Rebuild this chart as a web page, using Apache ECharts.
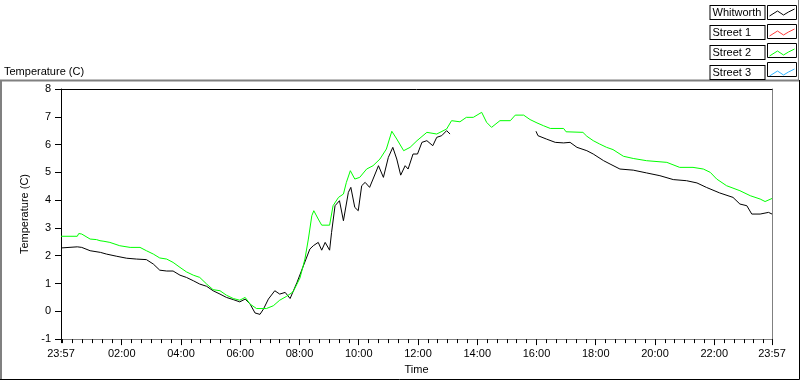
<!DOCTYPE html>
<html>
<head>
<meta charset="utf-8">
<script src="https://cdn.jsdelivr.net/npm/echarts@6/dist/echarts.min.js"></script>
<style>
html,body{margin:0;padding:0;background:#fff;}
#chart{width:800px;height:380px;}
</style>
</head>
<body>
<div id="chart"></div>
<script>
// ---- data (x = minutes since 00:00 of the first day; 23:57 start = -3) ----
const seriesNames = ['Whitworth', 'Street 1', 'Street 2', 'Street 3'];
const seriesColors = ['#000000', '#ff3b3b', '#00ff00', '#33b5ff'];

const whitworthMinutes = [-3, 30, 39, 56, 77, 89, 110, 130, 150, 170, 184, 197, 211, 224, 238, 251, 265, 278, 292, 305, 319, 332, 346, 359, 370, 380, 390, 400, 407, 417, 430, 440, 451, 461, 475, 488, 501, 508, 518, 525, 532, 541, 545, 552, 561, 569, 579, 584, 592, 599, 606, 613, 622, 629, 640, 650, 660, 669, 677, 685, 694, 700, 710, 719, 728, 738, 750, 758, 768, 778, 785,
  870,
  959, 963, 980, 998, 1015, 1028, 1042, 1062, 1075, 1096, 1109, 1129, 1156, 1183, 1210, 1237, 1264, 1285, 1304, 1331, 1358, 1372, 1386, 1396, 1413, 1430, 1437];
const whitworthTemps = [2.28, 2.32, 2.30, 2.18, 2.12, 2.06, 1.98, 1.91, 1.88, 1.86, 1.70, 1.48, 1.45, 1.45, 1.30, 1.22, 1.10, 0.98, 0.90, 0.74, 0.62, 0.50, 0.42, 0.34, 0.44, 0.26, -0.06, -0.11, 0.08, 0.44, 0.74, 0.62, 0.68, 0.46, 1.04, 1.64, 2.24, 2.36, 2.48, 2.20, 2.48, 2.20, 2.84, 3.80, 3.98, 3.26, 4.28, 4.46, 3.74, 3.62, 4.52, 4.64, 4.46, 4.76, 5.24, 4.82, 5.54, 5.90, 5.48, 4.90, 5.24, 5.12, 5.66, 5.66, 6.08, 6.14, 5.96, 6.26, 6.32, 6.50, 6.38,
  null,
  6.48, 6.32, 6.20, 6.08, 6.06, 6.08, 5.90, 5.78, 5.66, 5.42, 5.30, 5.12, 5.08, 4.98, 4.88, 4.74, 4.70, 4.62, 4.46, 4.26, 4.10, 3.86, 3.80, 3.50, 3.50, 3.56, 3.50];

const street1Minutes = [];
const street1Temps = [];

const street2Minutes = [-3, 30, 33, 39, 42, 56, 69, 76, 80, 84, 96, 116, 137, 157, 170, 184, 197, 211, 214, 224, 238, 251, 265, 278, 292, 305, 319, 332, 346, 359, 370, 380, 393, 413, 427, 440, 454, 467, 481, 491, 498, 505, 509, 518, 525, 541, 548, 559, 569, 575, 583, 592, 602, 616, 629, 643, 656, 667, 677, 691, 704, 718, 738, 758, 778, 788, 805, 818, 832, 849, 859, 869, 886, 907, 917, 934, 947, 961, 974, 988, 1015, 1020, 1054, 1062, 1075, 1088, 1102, 1115, 1136, 1156, 1183, 1224, 1250, 1277, 1298, 1312, 1325, 1345, 1372, 1393, 1413, 1423, 1437];
const street2Temps = [2.70, 2.70, 2.80, 2.78, 2.72, 2.60, 2.58, 2.54, 2.60, 2.52, 2.48, 2.36, 2.30, 2.30, 2.18, 2.06, 1.92, 1.88, 1.95, 1.76, 1.58, 1.42, 1.30, 1.22, 0.98, 0.78, 0.74, 0.58, 0.46, 0.40, 0.50, 0.26, 0.10, 0.10, 0.20, 0.40, 0.54, 0.70, 1.20, 1.88, 2.60, 3.44, 3.62, 3.32, 3.10, 3.10, 3.80, 4.10, 4.22, 4.64, 5.06, 4.76, 4.82, 5.12, 5.24, 5.48, 5.84, 6.48, 6.20, 5.78, 5.90, 6.14, 6.44, 6.38, 6.56, 6.86, 6.82, 6.98, 6.98, 7.16, 6.80, 6.62, 6.86, 6.86, 7.06, 7.06, 6.90, 6.78, 6.68, 6.58, 6.58, 6.46, 6.44, 6.30, 6.14, 6.02, 5.90, 5.82, 5.58, 5.50, 5.42, 5.36, 5.18, 5.18, 5.12, 5.00, 4.76, 4.52, 4.34, 4.16, 4.04, 3.95, 4.06];

const street3Minutes = [];
const street3Temps = [];

// tick labels
const xLabelMinutes = [-3, 120, 240, 360, 480, 600, 720, 840, 960, 1080, 1200, 1320, 1437];
const xLabelTexts = ['23:57', '02:00', '04:00', '06:00', '08:00', '10:00', '12:00', '14:00', '16:00', '18:00', '20:00', '22:00', '23:57'];
const xMinorTickMinutes = [-3];
for (let m = 0; m <= 1420; m += 20) { if (m === 0 || m % 120 !== 0) xMinorTickMinutes.push(m); }
const xMajorTickMinutes = xLabelMinutes.slice(1);

const yMin = -1, yMax = 8;
const xMin = -3, xMax = 1437;

function pairs(xs, ys) { return xs.map((x, i) => [x, ys[i]]); }

const FONT = 'Liberation Sans';
const chart = echarts.init(document.getElementById('chart'), null, { renderer: 'canvas' });

// legend geometry
const legTop = 5, legRight = 5, legIconW = 25, legIconH = 7, legGap = 5, legRowH = 14;
const graphics = [
  { type: 'polyline', silent: true, shape: { points: [[1, 379], [1, 80.5], [799, 80.5]] }, style: { stroke: '#808080', lineWidth: 2, fill: null } },
  { type: 'polyline', silent: true, shape: { points: [[799.5, 80], [799.5, 379.5], [0, 379.5]] }, style: { stroke: '#000', lineWidth: 1, fill: null } },
  { type: 'polyline', silent: true, shape: { points: [[798.5, 0], [798.5, 80]] }, style: { stroke: '#808080', lineWidth: 1, fill: null } }
];
const graphicsLegendBoxes = [];
seriesNames.forEach((n, i) => {
  const iconLeft = 800 - legRight - legIconW;
  const top = legTop + i * (legRowH + legGap);
  graphicsLegendBoxes.push({ type: 'rect', silent: true, z: 100,
    shape: { x: iconLeft - 2.5, y: top + 0.5, width: legIconW + 4, height: legRowH },
    style: { fill: null, stroke: '#000', lineWidth: 1 } });
});

const option = {
  animation: false,
  backgroundColor: '#fff',
  textStyle: { fontFamily: FONT },
  title: {
    text: 'Temperature (C)', left: 4, top: 66, padding: 0,
    textStyle: { fontSize: 11, fontWeight: 'normal', color: '#000', fontFamily: FONT }
  },
  legend: {
    orient: 'vertical', right: legRight, top: legTop, padding: 0, align: 'right',
    itemGap: legGap, itemWidth: legIconW, itemHeight: legIconH,
    selectedMode: false,
    icon: 'path://M0,7L8,2L14,6L19,3L25,0',
    data: seriesNames.map((n, i) => ({ name: n, itemStyle: { color: 'transparent', borderColor: seriesColors[i], borderWidth: 1 } })),
    formatter: name => '{a|' + name + '}',
    textStyle: {
      fontSize: 11, color: '#000', fontFamily: FONT,
      borderColor: '#000', borderWidth: 1, backgroundColor: '#fff', padding: [0, 2, 0, 2],
      rich: { a: { width: 50, height: 13, lineHeight: 13, align: 'left', fontSize: 11, color: '#000', fontFamily: FONT } }
    }
  },
  graphic: graphics.concat(graphicsLegendBoxes),
  grid: { left: 61, right: 28, top: 89, bottom: 40, containLabel: false },
  xAxis: [
    {
      type: 'value', position: 'bottom', min: xMin, max: xMax,
      name: 'Time', nameLocation: 'middle', nameGap: 24,
      nameTextStyle: { fontSize: 11, color: '#000', fontFamily: FONT },
      axisLine: { show: true, onZero: false, lineStyle: { color: '#808080', width: 1 } },
      axisTick: { show: true, length: 6, customValues: xMajorTickMinutes, lineStyle: { color: '#000' } },
      axisLabel: {
        show: true, margin: 9, fontSize: 11, color: '#000', fontFamily: FONT,
        customValues: xLabelMinutes, showMinLabel: true, showMaxLabel: true,
        formatter: v => { const i = xLabelMinutes.indexOf(v); return i >= 0 ? xLabelTexts[i] : ''; }
      },
      splitLine: { show: false }
    },
    {
      type: 'value', position: 'bottom', min: xMin, max: xMax,
      axisLine: { show: false, onZero: false },
      axisTick: { show: true, length: 4, customValues: xMinorTickMinutes, lineStyle: { color: '#000' } },
      axisLabel: { show: false },
      splitLine: { show: false }
    },
    {
      type: 'value', position: 'top', min: xMin, max: xMax,
      axisLine: { show: true, onZero: false, lineStyle: { color: '#000', width: 1 } },
      axisTick: { show: false }, axisLabel: { show: false }, splitLine: { show: false }
    }
  ],
  yAxis: [
    {
      type: 'value', position: 'left', min: yMin, max: yMax, interval: 1,
      name: 'Temperature (C)', nameLocation: 'middle', nameGap: 24,
      nameTextStyle: { fontSize: 11, color: '#000', fontFamily: FONT },
      axisLine: { show: true, onZero: false, lineStyle: { color: '#000', width: 1 } },
      axisTick: { show: true, length: 6, lineStyle: { color: '#000' } },
      axisLabel: { margin: 10, fontSize: 11, color: '#000', fontFamily: FONT },
      splitLine: { show: false }
    },
    {
      type: 'value', position: 'right', min: yMin, max: yMax, interval: 1,
      axisLine: { show: true, onZero: false, lineStyle: { color: '#808080', width: 1 } },
      axisTick: { show: false }, axisLabel: { show: false }, splitLine: { show: false }
    }
  ],
  series: [
    { name: seriesNames[0], type: 'line', xAxisIndex: 0, yAxisIndex: 0, data: pairs(whitworthMinutes, whitworthTemps), showSymbol: false, symbol: 'none', connectNulls: false, color: seriesColors[0], lineStyle: { width: 1, color: seriesColors[0] } },
    { name: seriesNames[1], type: 'line', xAxisIndex: 0, yAxisIndex: 0, data: pairs(street1Minutes, street1Temps), showSymbol: false, symbol: 'none', color: seriesColors[1], lineStyle: { width: 1, color: seriesColors[1] } },
    { name: seriesNames[2], type: 'line', xAxisIndex: 0, yAxisIndex: 0, data: pairs(street2Minutes, street2Temps), showSymbol: false, symbol: 'none', color: seriesColors[2], lineStyle: { width: 1, color: seriesColors[2] } },
    { name: seriesNames[3], type: 'line', xAxisIndex: 0, yAxisIndex: 0, data: pairs(street3Minutes, street3Temps), showSymbol: false, symbol: 'none', color: seriesColors[3], lineStyle: { width: 1, color: seriesColors[3] } }
  ]
};
chart.setOption(option);
</script>
</body>
</html>
